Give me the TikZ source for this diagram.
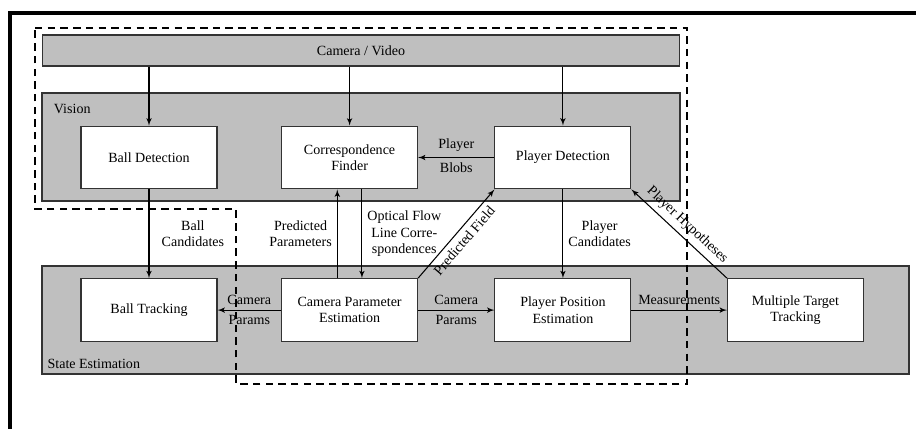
\documentclass[tikz,border=0pt]{standalone}
\usepackage{fontspec}
\setmainfont{Liberation Serif}
\usepackage{tikz}
\usetikzlibrary{shapes,arrows,positioning,calc}
\tikzset{
block/.style = {draw=black!80, fill=white, rectangle, align=center, minimum width=3.2cm, minimum height=1.48cm},
bar/.style = {draw=black!80, fill=black!25, rectangle},
frame/.style = {draw, dash pattern=on 5pt off 3.5pt},
}
\begin{document}
\begin{tikzpicture}[node distance=4.72cm, >=latex', line width=0.7pt, font=\fontsize{9.4}{11}\selectfont]
      \useasboundingbox (0,0) rectangle (21.553,-10.071);
      \draw [line width=2.5pt] (0.235,-10.3) -- (0.235,-0.306) -- (21.8,-0.306);
      \draw [bar] (0.988,-2.188) rectangle (16.0,-4.729);
      \draw [bar] (0.988,-6.259) rectangle (21.388,-8.8);
      \node [anchor=west] (vision) at (1.14,-2.565) {Vision};
      \node [anchor=west] (stateest) at (0.99,-8.565) {State Estimation};
      \node [bar, minimum width=15.01cm, minimum height=0.73cm] (camera) at (8.494,-1.188) {Camera / Video};
      \node [block] (balldet) at (3.506,-3.706) {Ball Detection};
      \node [block, right of = balldet] (corrfind) {Correspondence\\Finder};
      \node [block, right of = corrfind, node distance = 5.02cm] (playerdet) {Player Detection};
      \node [block, below of = balldet, node distance = 3.59cm] (balltrack) {Ball Tracking};
      \node [block, below of = corrfind, node distance = 3.59cm] (camest) {Camera Parameter\\Estimation};
      \node [block, below of = playerdet, node distance = 3.59cm] (playerpos) {Player Position\\Estimation};
      \node [block, right of = playerpos, node distance = 5.47cm] (mtt) {Multiple Target\\Tracking};
      \draw [->] (camera.south -| balldet) -- (balldet);
      \draw [->] (camera.south -| corrfind) -- (corrfind);
      \draw [->] (camera.south -| playerdet) -- (playerdet);
      \draw [->] (playerdet) -- node[above]{Player} node[below]{Blobs} (corrfind);
      \draw [->] (balldet) -- node[right, xshift=0.17cm, align=center]{Ball\\Candidates} (balltrack);
      \draw [->] ([xshift=0.29cm]corrfind.south) -- node[right, align=center]{Optical Flow\\Line Corre-\\spondences} ([xshift=0.29cm]camest.north);
      \draw [->] ([xshift=-0.29cm]camest.north) -- node[left, align=center]{Predicted\\Parameters} ([xshift=-0.29cm]corrfind.south);
      \draw [->] (playerdet) -- node[right, align=center]{Player\\Candidates} (playerpos);
      \draw [->] (camest) -- node[above]{Camera} node[below]{Params} (balltrack);
      \draw [->] (camest) -- node[above]{Camera} node[below]{Params} (playerpos);
      \draw [->] (playerpos) -- node[above]{Measurements} (mtt);
      \draw [->] (camest.north east) -- node[sloped, below]{Predicted Field} (playerdet.south west);
      \draw [<-] (playerdet.south east) -- node[sloped, above]{Player Hypotheses} (mtt.north west);
      \draw [frame] (0.824,-0.659) -- (16.165,-0.659) -- (16.165,-9.035) -- (5.553,-9.035) -- (5.553,-4.918) -- (0.824,-4.918) -- cycle;
\end{tikzpicture}
\end{document}
